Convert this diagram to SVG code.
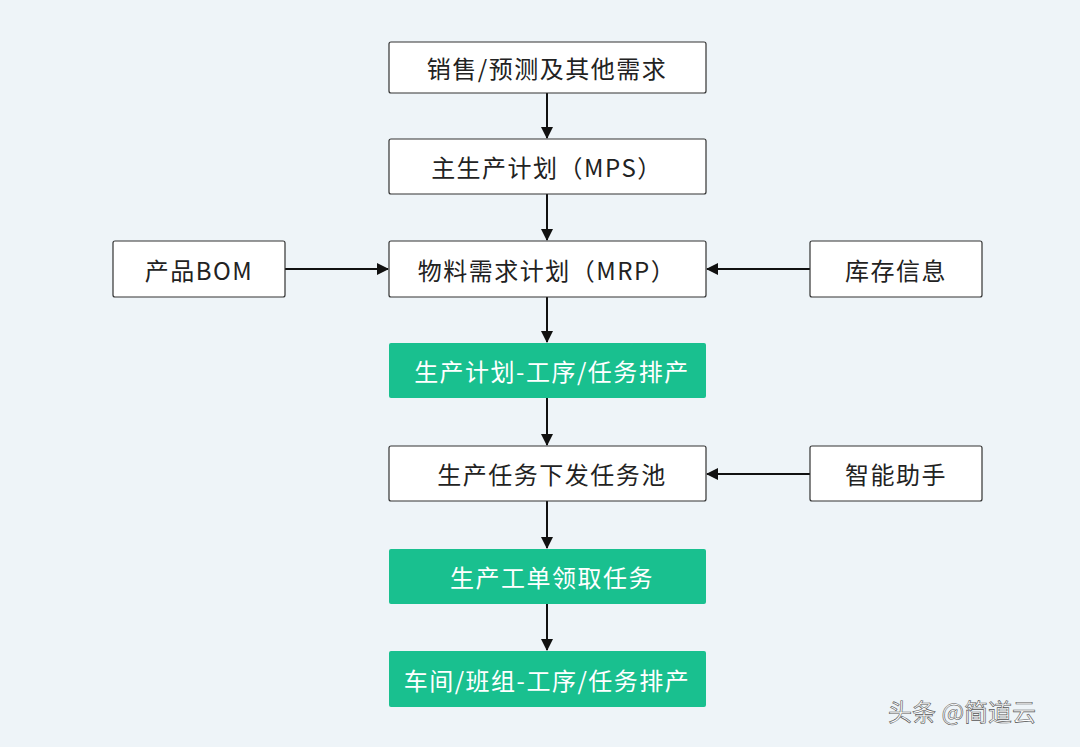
<svg xmlns="http://www.w3.org/2000/svg" width="1080" height="747" viewBox="0 0 1080 747">
<style>
.b{fill:#fff;stroke:#333;stroke-width:1.2}
.g{fill:#19c08f}
.t{font-family:"Noto Sans CJK SC","Noto Sans",sans-serif;font-size:24px;fill:#222;text-anchor:middle;dominant-baseline:central;letter-spacing:1.5px}
.w{fill:#fff}
.c{stroke:#111;stroke-width:2;fill:none;marker-end:url(#a)}
</style>
<defs><marker id="a" markerWidth="12" markerHeight="12" refX="11" refY="6" orient="auto" markerUnits="userSpaceOnUse"><path d="M0,0 L12,6 L0,12 z" fill="#111"/></marker></defs>
<rect width="1080" height="747" fill="#eef4f8"/>
<g id="connectors">
<line class="c" x1="547" y1="93" x2="547" y2="138"/>
<line class="c" x1="547" y1="194" x2="547" y2="240"/>
<line class="c" x1="285" y1="269" x2="388" y2="269"/>
<line class="c" x1="810" y1="269" x2="707" y2="269"/>
<line class="c" x1="547" y1="297" x2="547" y2="342"/>
<line class="c" x1="547" y1="398" x2="547" y2="445"/>
<line class="c" x1="810" y1="474" x2="707" y2="474"/>
<line class="c" x1="547" y1="501" x2="547" y2="548"/>
<line class="c" x1="547" y1="604" x2="547" y2="650"/>
</g>
<g id="n1"><rect class="b" x="389" y="42" width="317" height="51" rx="2"/><text class="t" x="547" y="67">销售/预测及其他需求</text></g>
<g id="n2"><rect class="b" x="389" y="139" width="317" height="55" rx="2"/><text class="t" x="547" y="166">主生产计划（MPS）</text></g>
<g id="n3"><rect class="b" x="389" y="241" width="317" height="56" rx="2"/><text class="t" x="547" y="269">物料需求计划（MRP）</text></g>
<g id="n4"><rect class="b" x="113" y="241" width="172" height="56" rx="2"/><text class="t" x="199" y="269">产品BOM</text></g>
<g id="n5"><rect class="b" x="810" y="241" width="172" height="56" rx="2"/><text class="t" x="896" y="269">库存信息</text></g>
<g id="n6"><rect class="g" x="389" y="343" width="317" height="55" rx="2"/><text class="t w" x="552" y="370">生产计划-工序/任务排产</text></g>
<g id="n7"><rect class="b" x="389" y="446" width="317" height="55" rx="2"/><text class="t" x="552" y="473">生产任务下发任务池</text></g>
<g id="n8"><rect class="b" x="810" y="446" width="172" height="55" rx="2"/><text class="t" x="896" y="473">智能助手</text></g>
<g id="n9"><rect class="g" x="389" y="549" width="317" height="55" rx="2"/><text class="t w" x="552" y="576">生产工单领取任务</text></g>
<g id="n10"><rect class="g" x="389" y="651" width="317" height="56" rx="2"/><text class="t w" x="547" y="679">车间/班组-工序/任务排产</text></g>
<text x="888" y="721" font-family="Noto Sans CJK SC,sans-serif" font-size="24" fill="#fff" stroke="#555" stroke-width="0.6">头条 @简道云</text>
</svg>
